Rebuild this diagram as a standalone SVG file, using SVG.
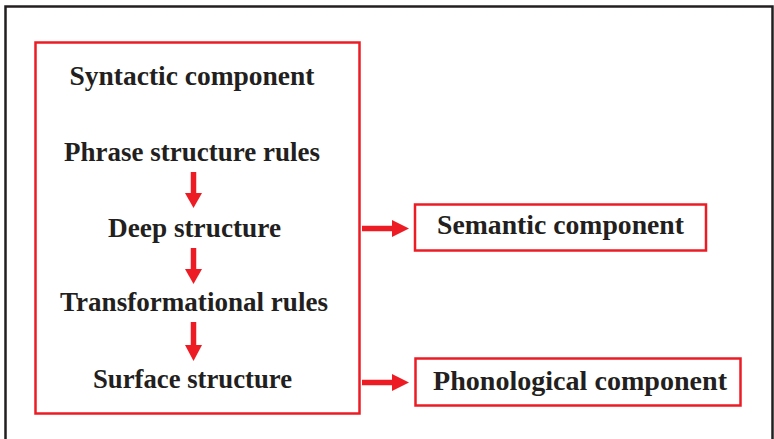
<svg xmlns="http://www.w3.org/2000/svg" width="774" height="439" viewBox="0 0 774 439">
<defs>
<style>
.t{font-family:"Liberation Serif","DejaVu Serif",serif;font-weight:bold;font-size:26.5px;fill:#231F20;text-anchor:middle}
.box{fill:none;stroke:#ED1C24;stroke-width:2.5}
.shaft{stroke:#ED1C24;stroke-width:5.5;fill:none}
.head{fill:#ED1C24}
</style>
</defs>
<rect width="774" height="439" fill="#ffffff"/>
<path d="M5.5,439 V6.5 H772.5 V439" fill="none" stroke="#231F20" stroke-width="2.5"/>
<g id="syntactic">
<rect class="box" x="35.5" y="42.5" width="324" height="371"/>
<text class="t" x="192" y="85" textLength="245" lengthAdjust="spacingAndGlyphs">Syntactic component</text>
</g>
<g id="phrase"><text class="t" x="192" y="161" textLength="256" lengthAdjust="spacingAndGlyphs">Phrase structure rules</text></g>
<g id="deep"><text class="t" x="194.5" y="237" textLength="173" lengthAdjust="spacingAndGlyphs">Deep structure</text></g>
<g id="transformational"><text class="t" x="194" y="311" textLength="268" lengthAdjust="spacingAndGlyphs">Transformational rules</text></g>
<g id="surface"><text class="t" x="192.5" y="388" textLength="199" lengthAdjust="spacingAndGlyphs">Surface structure</text></g>
<g id="semantic">
<rect class="box" x="415" y="204.5" width="291" height="46"/>
<text class="t" x="560.5" y="234" textLength="247" lengthAdjust="spacingAndGlyphs">Semantic component</text>
</g>
<g id="phonological">
<rect class="box" x="415.5" y="358.5" width="325" height="47"/>
<text class="t" x="580" y="390" textLength="294" lengthAdjust="spacingAndGlyphs">Phonological component</text>
</g>
<g id="connectors">
<line class="shaft" x1="193.5" y1="172" x2="193.5" y2="195"/>
<polygon class="head" points="185,193 202,193 193.5,208"/>
<line class="shaft" x1="193.5" y1="248" x2="193.5" y2="271"/>
<polygon class="head" points="185,269 202,269 193.5,284"/>
<line class="shaft" x1="193.5" y1="322" x2="193.5" y2="347"/>
<polygon class="head" points="185,345 202,345 193.5,361"/>
<line class="shaft" x1="362" y1="228.5" x2="394" y2="228.5"/>
<polygon class="head" points="392,220 392,237 409,228.5"/>
<line class="shaft" x1="362" y1="382.5" x2="394" y2="382.5"/>
<polygon class="head" points="392,374 392,391 409,382.5"/>
</g>
</svg>
